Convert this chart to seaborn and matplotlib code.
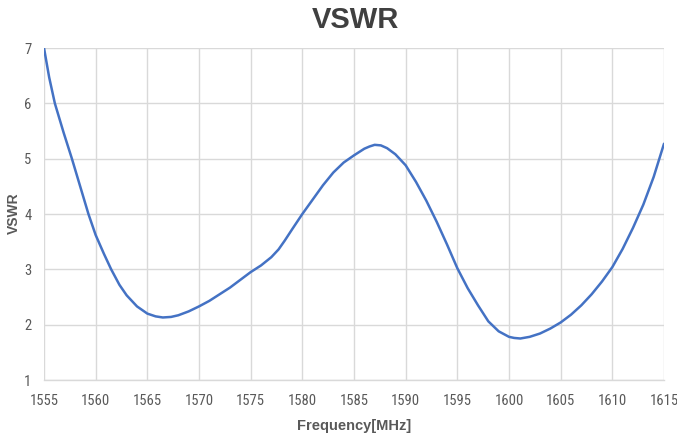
import matplotlib
matplotlib.use("Agg")
import matplotlib.pyplot as plt
import seaborn as sns
import pandas as pd
from matplotlib import font_manager

freq = [1555, 1555.5, 1556.05, 1556.9, 1557.7, 1558.5, 1559.3, 1560, 1560.8, 1561.5,
        1562.3, 1563, 1564, 1565, 1565.8, 1566.5, 1567.3, 1568, 1569, 1570,
        1571, 1572, 1573, 1574, 1575, 1576, 1577, 1577.7, 1578.3, 1579,
        1580, 1581, 1582, 1583, 1584, 1585, 1586, 1586.5, 1587, 1587.6,
        1588.2, 1589, 1590, 1591, 1592, 1593, 1594, 1595, 1596, 1597,
        1598, 1599, 1600, 1600.5, 1601.1, 1602, 1603, 1604, 1605, 1606,
        1607, 1608, 1609, 1610, 1611, 1612, 1613, 1614, 1615]
vswr = [7.0, 6.47, 6.0, 5.47, 5.0, 4.5, 4.0, 3.62, 3.28, 3.0,
        2.72, 2.53, 2.33, 2.2, 2.15, 2.13, 2.14, 2.17, 2.24, 2.33,
        2.43, 2.55, 2.67, 2.81, 2.95, 3.07, 3.22, 3.36, 3.52, 3.72,
        4.0, 4.26, 4.52, 4.75, 4.93, 5.06, 5.18, 5.22, 5.25, 5.24,
        5.19, 5.08, 4.88, 4.58, 4.24, 3.86, 3.45, 3.02, 2.66, 2.35,
        2.06, 1.88, 1.78, 1.76, 1.75, 1.78, 1.84, 1.93, 2.04, 2.18,
        2.35, 2.55, 2.78, 3.04, 3.37, 3.75, 4.17, 4.67, 5.27]
xticks = list(range(1555, 1616, 5))
yticks = [1, 2, 3, 4, 5, 6, 7]

sns.set_theme(style="white")
names = {f.name for f in font_manager.fontManager.ttflist}
tick_font = "Liberation Sans"
tick_size = 9
for cand in ["Liberation Sans Narrow", "Roboto Condensed", "Open Sans Condensed"]:
    if cand in names:
        tick_font = cand
        tick_size = 10.5
        break
plt.rcParams['font.family'] = ["Liberation Sans", 'DejaVu Sans']

df = pd.DataFrame({"Frequency": freq, "VSWR": vswr})

fig = plt.figure(figsize=(6.77, 4.36), dpi=100)
ax = fig.add_axes([44/677, 1-380/436, 620/677, 332/436])
sns.lineplot(data=df, x="Frequency", y="VSWR", ax=ax, color="#4472C4", linewidth=1.8)

ax.set_xlim(1555, 1615)
ax.set_ylim(1, 7)
ax.set_xticks(xticks)
ax.set_yticks(yticks)
ax.set_xticklabels([str(t) for t in xticks], family=[tick_font, "DejaVu Sans"])
ax.set_yticklabels([str(t) for t in yticks], family=[tick_font, "DejaVu Sans"])
ax.grid(True, color="#d9d9d9", linewidth=1)
ax.set_axisbelow(True)
for s in ["top", "right", "left"]:
    ax.spines[s].set_visible(False)
ax.spines["bottom"].set_color("#d9d9d9")
ax.spines["bottom"].set_linewidth(1)
ax.tick_params(axis="both", length=0, labelsize=tick_size, colors="#595959")
ax.tick_params(axis="x", pad=10)
ax.tick_params(axis="y", pad=9)

ax.set_xlabel("Frequency[MHz]", fontsize=10.5, fontweight="bold", color="#595959", labelpad=8)
ax.set_ylabel("VSWR", fontsize=10, fontweight="bold", color="#595959")
ax.yaxis.set_label_coords((14 - 44) / 620, (380 - 213) / 332)
ax.yaxis.label.set_va("center")
fig.text(355/677, 1-20/436, "VSWR", ha="center", va="center", fontsize=21,
         fontweight="bold", color="#404040")

fig.savefig("out.png", dpi=100)
